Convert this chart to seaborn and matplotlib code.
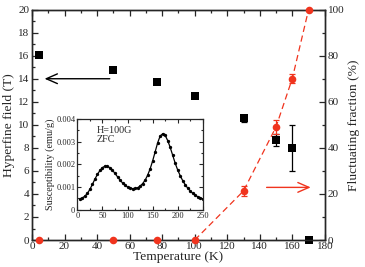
import numpy as np
import pandas as pd
import matplotlib
matplotlib.use("Agg")
import matplotlib.pyplot as plt
import seaborn as sns
from matplotlib.ticker import MultipleLocator

# ---- data ----
temp_hf = [4, 50, 77, 100, 130, 150, 160, 170]
hf_field = [16.1, 14.8, 13.7, 12.5, 10.55, 8.7, 8.0, 0.0]
hf_err = [0.2, 0.2, 0.2, 0.2, 0.3, 0.5, 2.0, 0.0]

temp_fr = [4, 50, 77, 100, 130, 150, 160, 170]
fluct_frac = [0, 0, 0, 0, 21.3, 49.1, 70.1, 100]
fluct_err = [0, 0, 0, 0, 2.0, 3.0, 2.0, 0]

chi_T = [5, 10, 15, 20, 25, 30, 35, 40, 45, 50, 55, 60, 65, 70, 75, 80, 85, 90,
         95, 100, 105, 110, 115, 120, 125, 130, 135, 140, 145, 150, 155, 160,
         165, 170, 175, 180, 185, 190, 195, 200, 205, 210, 215, 220, 225, 230,
         235, 240, 245, 250]
chi_val = [0.00048, 0.00052, 0.00060, 0.00072, 0.00090, 0.00112, 0.00135,
           0.00156, 0.00173, 0.00186, 0.00192, 0.00191, 0.00185, 0.00174,
           0.00160, 0.00145, 0.00131, 0.00118, 0.00108, 0.00100, 0.00095,
           0.00093, 0.00094, 0.00097, 0.00104, 0.00115, 0.00130, 0.00152,
           0.00180, 0.00215, 0.00255, 0.00295, 0.00325, 0.00335, 0.00328,
           0.00305, 0.00275, 0.00240, 0.00205, 0.00175, 0.00150, 0.00128,
           0.00110, 0.00095, 0.00083, 0.00072, 0.00064, 0.00057, 0.00051,
           0.00047]

RED = "#f0341e"

sns.set_style("ticks")
plt.rcParams["font.family"] = ["Liberation Serif", "DejaVu Serif"]
plt.rcParams["mathtext.fontset"] = "stix"

fig = plt.figure(figsize=(3.65, 2.67), dpi=100)
ax = fig.add_axes([0.0877, 0.101, 0.8023, 0.863])
ax2 = ax.twinx()

# hyperfine field (black squares)
df_hf = pd.DataFrame({"T": temp_hf, "B": hf_field, "err": hf_err})
ax.errorbar(df_hf["T"], df_hf["B"], yerr=df_hf["err"], fmt="none",
            ecolor="black", elinewidth=0.9, capsize=2.5, capthick=0.9,
            zorder=3)
sns.scatterplot(data=df_hf, x="T", y="B", ax=ax, marker="s", s=28,
                color="black", edgecolor="black", linewidth=0, zorder=4,
                clip_on=False, legend=False)

# fluctuating fraction (red circles)
df_fr = pd.DataFrame({"T": temp_fr, "F": fluct_frac, "err": fluct_err})
df_line = df_fr[df_fr["T"] >= 100]
sns.lineplot(data=df_line, x="T", y="F", ax=ax2, color=RED, lw=0.9,
             linestyle=(0, (5, 3)), zorder=2, clip_on=False)
ax2.errorbar(df_fr["T"], df_fr["F"], yerr=df_fr["err"], fmt="none",
             ecolor=RED, elinewidth=0.9, capsize=2.5, capthick=0.9, zorder=3)
sns.scatterplot(data=df_fr, x="T", y="F", ax=ax2, marker="o", s=30,
                color=RED, edgecolor=RED, linewidth=0, zorder=4,
                clip_on=False, legend=False)

# axes limits/ticks
ax.set_xlim(0, 180)
ax.set_ylim(0, 20)
ax2.set_ylim(0, 100)
ax.xaxis.set_major_locator(MultipleLocator(20))
ax.xaxis.set_minor_locator(MultipleLocator(10))
ax.yaxis.set_major_locator(MultipleLocator(2))
ax.yaxis.set_minor_locator(MultipleLocator(1))
ax2.yaxis.set_major_locator(MultipleLocator(20))
ax2.yaxis.set_minor_locator(MultipleLocator(10))
for a in (ax, ax2):
    a.tick_params(which="both", direction="in", labelsize=8, width=0.9,
                  pad=2)
    a.tick_params(which="major", length=4)
    a.tick_params(which="minor", length=2)
    for s in a.spines.values():
        s.set_linewidth(1.0)
        s.set_visible(True)
ax.tick_params(which="both", top=True)
ax.tick_params(axis="x", pad=1.5)
ax.set_xlabel("Temperature (K)", fontsize=9.7, labelpad=0)
ax.set_ylabel("Hyperfine field (T)", fontsize=9.7, labelpad=2)
ax2.set_ylabel("Fluctuating fraction (%)", fontsize=9.7, labelpad=3)

# arrows
ax.annotate("", xy=(6.0, 14.0), xytext=(49.5, 14.0),
            arrowprops=dict(arrowstyle="->,head_length=0.8,head_width=0.35",
                            color="black", lw=1.0))
ax.annotate("", xy=(173, 4.57), xytext=(142.5, 4.57),
            arrowprops=dict(arrowstyle="->,head_length=0.8,head_width=0.35",
                            color=RED, lw=1.0))

# inset
ins = fig.add_axes([0.212, 0.2146, 0.3436, 0.3397])
df_chi = pd.DataFrame({"T": chi_T, "chi": chi_val})
sns.lineplot(data=df_chi, x="T", y="chi", ax=ins, color="black", lw=0.9,
             marker="o", markersize=2.4, markeredgewidth=0)
ins.set_xlim(0, 250)
ins.set_ylim(0, 0.004)
ins.xaxis.set_major_locator(MultipleLocator(50))
ins.xaxis.set_minor_locator(MultipleLocator(25))
ins.yaxis.set_major_locator(MultipleLocator(0.001))
ins.yaxis.set_minor_locator(MultipleLocator(0.0005))
ins.yaxis.set_major_formatter(matplotlib.ticker.FuncFormatter(
    lambda v, p: "0" if v == 0 else f"{v:.3f}"))
ins.tick_params(which="both", direction="in", labelsize=6, width=0.8,
                pad=1.5, top=True, right=True)
ins.tick_params(which="major", length=3)
ins.tick_params(which="minor", length=1.5)
for s in ins.spines.values():
    s.set_linewidth(0.9)
ins.set_xlabel("")
ins.set_ylabel("Susceptibility (emu/g)", fontsize=7.4, labelpad=1)
ins.text(0.155, 0.92, "H=100G\nZFC", transform=ins.transAxes, fontsize=7.3,
         va="top", ha="left", linespacing=1.0)

fig.savefig("out.png", dpi=100)
